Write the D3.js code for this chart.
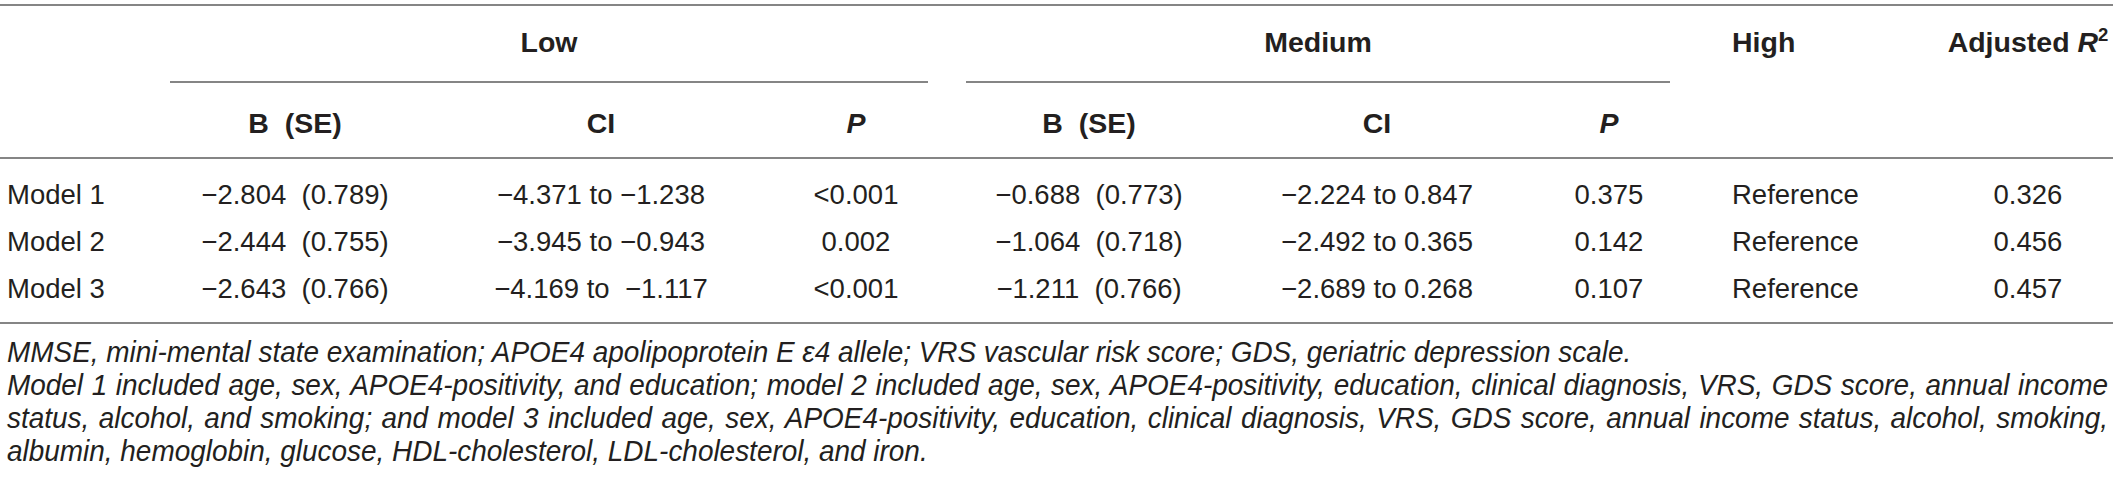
<!DOCTYPE html>
<html><head><meta charset="utf-8">
<script src="https://cdn.jsdelivr.net/npm/d3@7"></script>
<style>
body{margin:0;background:#fff}
svg{display:block}
text{font-family:"Liberation Sans",Arial,Helvetica,sans-serif;fill:#231f20;white-space:pre}
</style>
</head><body><svg id="c" width="2118" height="485"></svg>
<script>
// ---- data ----
const models = ["Model 1", "Model 2", "Model 3"];
const lowB  = ["−2.804", "−2.444", "−2.643"];
const lowSE = ["0.789", "0.755", "0.766"];
const lowCI = ["−4.371 to −1.238", "−3.945 to −0.943", "−4.169 to  −1.117"];
const lowP  = ["<0.001", "0.002", "<0.001"];
const medB  = ["−0.688", "−1.064", "−1.211"];
const medSE = ["0.773", "0.718", "0.766"];
const medCI = ["−2.224 to 0.847", "−2.492 to 0.365", "−2.689 to 0.268"];
const medP  = ["0.375", "0.142", "0.107"];
const high  = ["Reference", "Reference", "Reference"];
const adjR2 = ["0.326", "0.456", "0.457"];
const groups = ["Low", "Medium"];
const subHeaders = ["B  (SE)", "CI", "P"];
const notes = [
  "MMSE, mini-mental state examination; APOE4 apolipoprotein E ε4 allele; VRS vascular risk score; GDS, geriatric depression scale.",
  "Model 1 included age, sex, APOE4-positivity, and education; model 2 included age, sex, APOE4-positivity, education, clinical diagnosis, VRS, GDS score, annual income",
  "status, alcohol, and smoking; and model 3 included age, sex, APOE4-positivity, education, clinical diagnosis, VRS, GDS score, annual income status, alcohol, smoking,",
  "albumin, hemoglobin, glucose, HDL-cholesterol, LDL-cholesterol, and iron."
];
const justified = [false, true, true, false];

// ---- layout ----
const svg = d3.select("#c");
const lineColor = "#858585";
const colX = {label: 7, lowB: 295, lowCI: 601, lowP: 856, medB: 1089, medCI: 1377, medP: 1609, high: 1732, r2: 2028};
const groupSpans = [[170, 928], [966, 1670]];
const yRow = d3.scalePoint().domain(models).range([204, 298]);
const yNote = d3.scalePoint().domain(d3.range(notes.length)).range([362, 461]);

function hline(y, x1, x2) {
  svg.append("line").attr("x1", x1).attr("x2", x2).attr("y1", y).attr("y2", y)
    .attr("stroke", lineColor).attr("stroke-width", 2);
}
hline(5, 0, 2113);
groupSpans.forEach(s => hline(82, s[0], s[1]));
hline(158, 0, 2113);
hline(323, 0, 2113);

// group headers
const hdrSize = 28.5;
svg.selectAll("text.grp").data(groups).join("text").attr("class", "grp")
  .attr("x", (d, i) => (groupSpans[i][0] + groupSpans[i][1]) / 2)
  .attr("y", 52).attr("text-anchor", "middle")
  .attr("font-weight", "bold").attr("font-size", hdrSize).text(d => d);

svg.append("text").attr("x", colX.high).attr("y", 52)
  .attr("font-weight", "bold").attr("font-size", hdrSize).text("High");

const r2t = svg.append("text").attr("x", colX.r2).attr("y", 52).attr("text-anchor", "middle")
  .attr("font-weight", "bold").attr("font-size", hdrSize);
r2t.append("tspan").text("Adjusted ");
r2t.append("tspan").attr("font-style", "italic").text("R");
r2t.append("tspan").attr("font-size", hdrSize * 0.65).attr("dy", -11).text("2");

// sub headers
const subCols = [[colX.lowB, colX.lowCI, colX.lowP], [colX.medB, colX.medCI, colX.medP]];
subCols.forEach(cols => {
  svg.selectAll(null).data(subHeaders).join("text")
    .attr("x", (d, i) => cols[i]).attr("y", 133).attr("text-anchor", "middle")
    .attr("font-weight", "bold").attr("font-size", hdrSize)
    .attr("font-style", d => d === "P" ? "italic" : "normal")
    .text(d => d);
});

// body rows
const bodySize = 27.5;
function col(values, x, anchor) {
  svg.selectAll(null).data(values).join("text")
    .attr("x", x).attr("y", (d, i) => yRow(models[i]))
    .attr("text-anchor", anchor).attr("font-size", bodySize).text(d => d);
}
col(models, colX.label, "start");
col(lowB.map((b, i) => b + "  (" + lowSE[i] + ")"), colX.lowB, "middle");
col(lowCI, colX.lowCI, "middle");
col(lowP, colX.lowP, "middle");
col(medB.map((b, i) => b + "  (" + medSE[i] + ")"), colX.medB, "middle");
col(medCI, colX.medCI, "middle");
col(medP, colX.medP, "middle");
col(high, colX.high, "start");
col(adjR2, colX.r2, "middle");

// footnotes: taller, slightly condensed italic like the reference
const noteLeft = 7, noteRight = 2108, firstLineRight = 1632;
const noteSize = 29.5;
const probe = svg.append("text").attr("font-size", noteSize).attr("font-style", "italic").text(notes[0]);
const k = (firstLineRight - noteLeft) / probe.node().getComputedTextLength();
probe.remove();

const ng = svg.append("g").attr("transform", `translate(${noteLeft},0) scale(${k},1)`);
const nt = ng.selectAll("text.note").data(notes).join("text").attr("class", "note")
  .attr("x", 0).attr("y", (d, i) => yNote(i))
  .attr("font-size", noteSize).attr("font-style", "italic").text(d => d);
nt.each(function (d, i) {
  if (!justified[i]) return;
  const w = this.getComputedTextLength();
  const spaces = (d.match(/ /g) || []).length;
  d3.select(this).style("word-spacing", (((noteRight - noteLeft) / k - w) / spaces) + "px");
});
</script>
</body></html>
